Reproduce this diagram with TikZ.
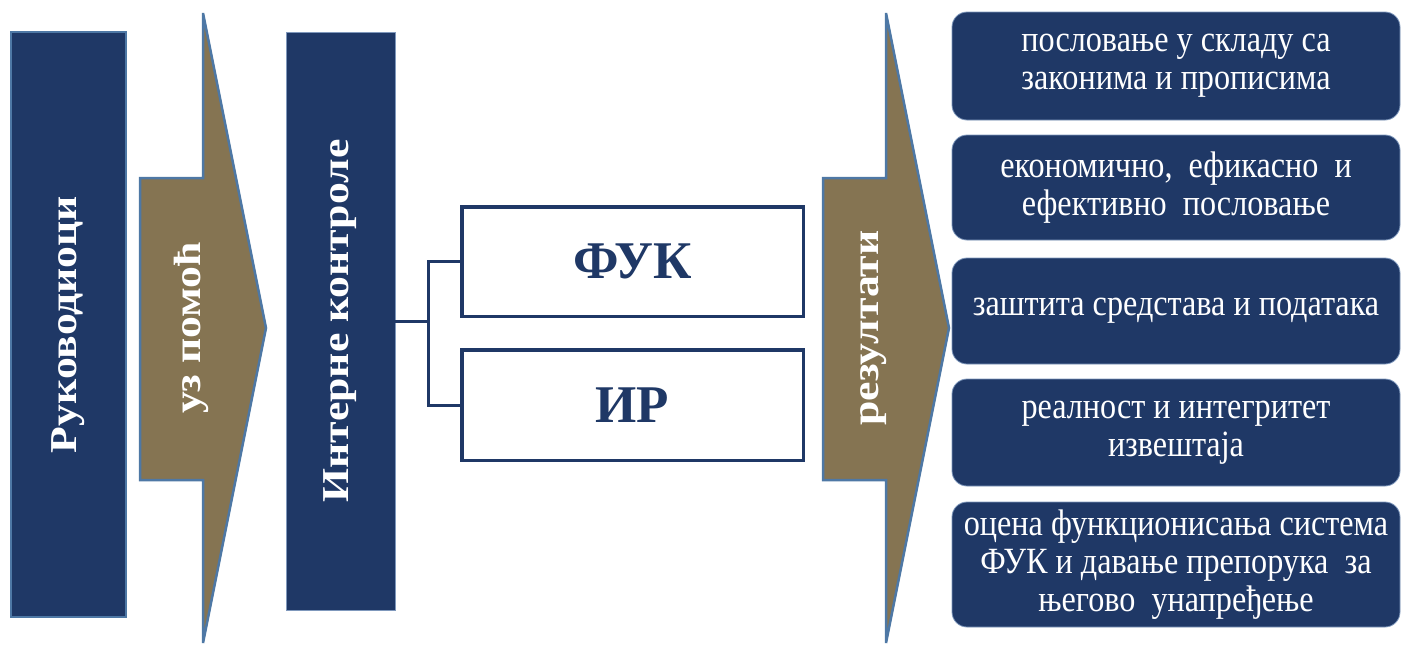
\documentclass[tikz,border=0pt]{standalone}
\usepackage{fontspec}
\setmainfont{Liberation Serif}
\newfontfamily\longfont[FakeStretch=1.15]{Liberation Serif}
\newfontfamily\condfont[FakeStretch=0.87]{Liberation Serif}
\definecolor{navy}{HTML}{1F3866}
\definecolor{olive}{HTML}{857452}
\definecolor{steel}{HTML}{4E78A5}
\definecolor{barline}{HTML}{7F98BC}

\begin{document}
\begin{tikzpicture}[x=1pt, y=-1pt,
    bar/.style={draw=barline, fill=navy, text=white, rotate=90, inner sep=0pt,
      font=\longfont\bfseries\fontsize{38}{38}\selectfont},
    pointer/.style={draw=steel, line width=2.5pt, fill=olive},
    pointertext/.style={text=white, rotate=90, inner sep=0pt,
      font=\longfont\bfseries\fontsize{38}{38}\selectfont},
    ctlbox/.style={draw=navy, line width=3.5pt, fill=white, text=navy,
      minimum width=341.5pt, inner sep=0pt,
      font=\bfseries\fontsize{53}{53}\selectfont},
    resbox/.style={draw=barline, line width=0.8pt, fill=navy, text=white,
      rounded corners=15pt, align=center, minimum width=448pt, inner sep=0pt,
      font=\condfont\fontsize{37}{38}\selectfont},
    link/.style={draw=navy, line width=3pt}]
    \useasboundingbox[fill=white] (0,0) rectangle (1402,645);

    \node[bar, draw=steel, line width=2.5pt, minimum width=585pt, minimum height=115pt]
      (ruk) at (68.5,324.5) {Руководиоци};
    \node[bar, minimum width=578pt, minimum height=109pt]
      (ik) at (340.5,321) {Интерне контроле};

    \foreach \x/\name/\txt in {140/uzpomoc/{уз помоћ}, 823/rez/{резултати}} {
      \draw[pointer] (\x,178) -- ++(63,0) -- (\x+63,13) -- (\x+126,328)
        -- (\x+63,643) -- ++(0,-163) -- (\x,480) -- cycle;
      \node[pointertext] (\name) at (\x+51,328) {\txt};
    }

    \node[ctlbox, minimum height=109.5pt] (fuk) at (632.5,261.5) {ФУК};
    \node[ctlbox, minimum height=110.5pt] (ir) at (632.5,405) {ИР};

    \draw[link] (ik.south) -- ++(33,0) coordinate (split);
    \draw[link] (fuk.west) -| (split) |- (ir.west);

    \node[resbox, minimum height=108pt] (res1) at (1176,66)
      {пословање у складу са\\законима и прописима};
    \node[resbox, minimum height=105pt] (res2) at (1176,187.5)
      {економично,\ \ ефикасно\ \ и\\ефективно\ \ пословање};
    \node[resbox, minimum height=106pt] (res3) at (1176,311)
      {заштита средстава и података};
    \node[resbox, minimum height=107pt] (res4) at (1176,432.5)
      {реалност и интегритет\\извештаја};
    \node[resbox, minimum height=125pt] (res5) at (1176,564.5)
      {оцена функционисања система\\ФУК и давање препорука\ \ за\\његово\ \ унапређење};
  \end{tikzpicture}
\end{document}
